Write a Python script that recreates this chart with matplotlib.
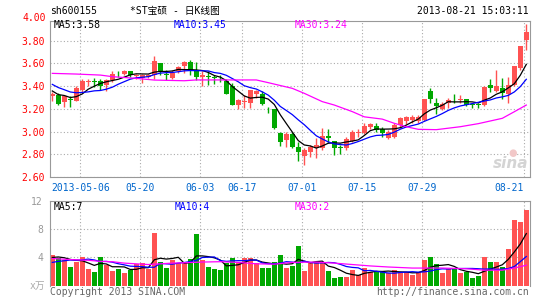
import numpy as np
import pandas as pd
import matplotlib
matplotlib.use('Agg')
from matplotlib import pyplot as plt
from matplotlib import transforms

# daily candles, 2013-04-24 .. 2013-08-21 (80 trading days)
opens = [3.31, 3.32, 3.26, 3.29, 3.27, 3.37, 3.44, 3.445, 3.45, 3.41,
         3.455, 3.51, 3.505, 3.535, 3.49, 3.47, 3.48, 3.50, 3.60, 3.51,
         3.475, 3.53, 3.58, 3.61, 3.54, 3.485, 3.49, 3.48, 3.465, 3.445,
         3.40, 3.235, 3.26, 3.255, 3.33, 3.33, 3.20, 3.195, 2.985, 2.926,
         2.976, 2.868, 2.785, 2.824, 2.853, 2.853, 2.961, 2.913, 2.86, 2.858,
         2.916, 2.99, 2.99, 3.04, 3.045, 3.022, 2.946, 2.955, 3.055, 3.095,
         3.10, 3.09, 3.10, 3.36, 3.249, 3.196, 3.25, 3.28, 3.28, 3.284,
         3.24, 3.24, 3.234, 3.41, 3.36, 3.38, 3.331, 3.41, 3.557, 3.807]
highs = [3.35, 3.34, 3.32, 3.31, 3.40, 3.46, 3.46, 3.47, 3.46, 3.46,
         3.53, 3.535, 3.545, 3.535, 3.51, 3.51, 3.51, 3.67, 3.60, 3.54,
         3.54, 3.58, 3.62, 3.63, 3.61, 3.53, 3.53, 3.50, 3.50, 3.46,
         3.43, 3.29, 3.32, 3.37, 3.365, 3.36, 3.22, 3.20, 3.00, 3.00,
         3.00, 2.911, 2.853, 2.882, 2.94, 3.029, 3.02, 2.92, 2.882, 2.95,
         3.014, 3.02, 3.08, 3.08, 3.075, 3.04, 3.014, 3.08, 3.13, 3.14,
         3.15, 3.145, 3.29, 3.38, 3.30, 3.26, 3.30, 3.33, 3.32, 3.29,
         3.25, 3.25, 3.40, 3.46, 3.543, 3.47, 3.48, 3.58, 3.754, 3.948]
lows = [3.27, 3.23, 3.22, 3.22, 3.27, 3.35, 3.40, 3.39, 3.37, 3.36,
        3.44, 3.485, 3.50, 3.485, 3.46, 3.43, 3.47, 3.46, 3.50, 3.455,
        3.46, 3.52, 3.52, 3.50, 3.455, 3.40, 3.41, 3.42, 3.44, 3.33,
        3.23, 3.20, 3.21, 3.205, 3.30, 3.235, 3.16, 3.025, 2.87, 2.868,
        2.853, 2.739, 2.706, 2.78, 2.77, 2.838, 2.90, 2.79, 2.80, 2.838,
        2.91, 2.955, 2.98, 3.02, 3.00, 2.955, 2.935, 2.94, 3.035, 3.07,
        3.08, 3.08, 3.09, 3.25, 3.155, 3.19, 3.21, 3.25, 3.25, 3.225,
        3.21, 3.21, 3.225, 3.35, 3.35, 3.29, 3.25, 3.40, 3.543, 3.719]
closes = [3.33, 3.24, 3.31, 3.28, 3.38, 3.45, 3.45, 3.44, 3.40, 3.455,
          3.505, 3.505, 3.535, 3.50, 3.50, 3.50, 3.50, 3.62, 3.53, 3.50,
          3.52, 3.57, 3.61, 3.53, 3.485, 3.495, 3.485, 3.475, 3.46, 3.33,
          3.235, 3.28, 3.265, 3.365, 3.36, 3.245, 3.195, 3.03, 2.911, 2.976,
          2.868, 2.818, 2.838, 2.868, 2.882, 2.961, 2.94, 2.853, 2.855, 2.935,
          2.999, 2.995, 3.045, 3.068, 3.01, 2.99, 2.999, 3.055, 3.117, 3.125,
          3.13, 3.125, 3.284, 3.284, 3.226, 3.243, 3.28, 3.275, 3.285, 3.234,
          3.235, 3.235, 3.396, 3.38, 3.40, 3.34, 3.41, 3.578, 3.754, 3.88]
# volume, x 10k
volumes = [4.34, 3.96, 3.63, 2.64, 3.4, 4.06, 2.36, 1.93, 4.06, 3.0,
           2.08, 2.36, 1.8, 2.26, 3.1, 3.2, 2.36, 7.45, 3.35, 2.5,
           3.63, 3.2, 3.2, 3.77, 7.3, 3.63, 2.7, 2.36, 2.2, 3.16,
           3.96, 3.16, 3.96, 3.96, 3.16, 2.5, 2.5, 3.35, 4.34, 2.55,
           2.83, 5.6, 2.08, 3.16, 3.4, 3.16, 2.08, 1.08, 1.27, 1.27,
           2.2, 1.46, 2.55, 2.0, 2.0, 2.08, 1.75, 2.2, 1.75, 1.9,
           1.5, 1.9, 3.68, 4.06, 3.07, 1.8, 2.36, 2.36, 1.8, 1.9,
           1.08, 1.37, 4.06, 3.35, 3.35, 2.7, 5.2, 9.3, 9.0, 10.7]
# sessions before the window, only used to start the moving averages
prev_close = [3.52, 3.50, 3.48, 3.45, 3.42, 3.40, 3.35, 3.37, 3.34]
prev_vol = [2.9, 3.1, 2.6, 2.8, 3.0, 2.94, 3.6, 4.2, 3.8, 4.06]

ma30_idx = [0, 4, 8, 10, 14, 17, 22, 24, 34, 36, 40, 42, 45, 47, 50,
            52, 55, 57, 59, 61, 64, 68, 71, 75, 77, 79]
ma30_val = [3.513, 3.507, 3.498, 3.484, 3.469, 3.454, 3.448, 3.455, 3.455,
            3.431, 3.381, 3.337, 3.264, 3.234, 3.176, 3.13, 3.11, 3.073,
            3.043, 3.02, 3.017, 3.043, 3.07, 3.117, 3.175, 3.234]
vol_ma30_idx = [0, 3, 6, 8, 10, 12, 14, 16, 18, 20, 22, 25, 28, 31, 34,
                37, 40, 44, 47, 50, 53, 56, 60, 65, 69, 72, 75, 77, 79]
vol_ma30_val = [3.85, 3.7, 3.6, 3.45, 3.4, 3.2, 3.1, 3.0, 3.1, 3.2, 3.25,
                3.35, 3.4, 3.3, 3.1, 3.05, 3.3, 3.35, 3.2, 3.0, 2.8, 2.65,
                2.5, 2.5, 2.4, 2.2, 2.2, 2.5, 2.9]

tick_idx = [5, 15, 25, 32, 42, 52, 62, 79]
tick_labels = ['2013-05-06', '05-20', '06-03', '06-17', '07-01',
               '07-15', '07-29', '08-21']
price_ticks = [2.6, 2.8, 3.0, 3.2, 3.4, 3.6, 3.8]
vol_ticks = [4, 8, 12]

RED = '#ff5252'
GREEN = '#00a800'
FRAME = '#999999'
GRID = '#aaaaaa'

plt.rcParams['font.family'] = ['DejaVu Sans Mono', 'Noto Sans CJK SC']
plt.rcParams['font.size'] = 7

W, H = 545., 300.


def px(x, y):
    return x / W, 1 - y / H


n = len(closes)
x = np.arange(n)
o = np.array(opens)
c = np.array(closes)
up = c >= o
colors = np.where(up, RED, GREEN)

cs = pd.Series(prev_close + closes)
ma5 = cs.rolling(5).mean().values[len(prev_close):]
ma10 = cs.rolling(10).mean().values[len(prev_close):]
vs = pd.Series(prev_vol + volumes)
vma5 = vs.rolling(5).mean().values[len(prev_vol):]
vma10 = vs.rolling(10).mean().shift(1).values[len(prev_vol):]

fig = plt.figure(figsize=(W / 100, H / 100), dpi=100)
ax = fig.add_axes([50 / W, 123 / H, 480 / W, 156.3 / H])
vax = fig.add_axes([50 / W, 14.3 / H, 480 / W, 84.7 / H])

xlim = (-0.383, n - 0.383)
grid_x = [i - 0.35 for i in tick_idx]

# price panel
ax.vlines(x, lows, highs, colors=colors, linewidth=1)
body_lo = np.minimum(o, c)
body_h = np.maximum(np.abs(c - o), 0.006)
ax.bar(x, body_h, bottom=body_lo, width=0.78, color=colors, linewidth=0)
ax.plot(x, ma5, color='black', linewidth=0.9)
ax.plot(x, ma10, color='#0000ff', linewidth=0.9)
ax.plot(ma30_idx, ma30_val, color='#ff00ff', linewidth=0.9)
ax.set_xlim(*xlim)
ax.set_ylim(2.6, 3.977)
ax.set_yticks(price_ticks)
ax.set_yticklabels(['%.2f' % t for t in price_ticks])
ax.set_xticks(grid_x)
ax.set_xticklabels(tick_labels)
ax.get_xticklabels()[-1].set_ha('right')
ax.tick_params(axis='y', length=0, pad=4, labelcolor='red', labelsize=7)
ax.tick_params(axis='x', length=0, pad=4, labelcolor='#0066cc', labelsize=7)
ax.grid(True, color=GRID, linestyle=(0, (1, 2)), linewidth=0.8)
ax.set_axisbelow(True)
for s in ax.spines.values():
    s.set_color(FRAME)
trans = transforms.blended_transform_factory(ax.transAxes, ax.transData)
ax.text(-0.0085, 4.0, '4.00', transform=trans, ha='right', va='center',
        color='red', fontsize=7, clip_on=False)

# volume panel
vax.bar(x, volumes, width=0.78, color=colors, linewidth=0)
vax.plot(x, vma5, color='black', linewidth=0.9)
vax.plot(x, vma10, color='#0000ff', linewidth=0.9)
vax.plot(vol_ma30_idx, vol_ma30_val, color='#ff00ff', linewidth=0.9)
vax.set_xlim(*xlim)
vax.set_ylim(0, 12)
vax.set_yticks(vol_ticks)
vax.set_xticks(grid_x)
vax.set_xticklabels([])
vax.tick_params(axis='y', length=0, pad=5, labelcolor=FRAME, labelsize=7)
vax.tick_params(axis='x', length=0)
vax.grid(True, color=GRID, linestyle=(0, (1, 2)), linewidth=0.8)
vax.set_axisbelow(True)
for s in vax.spines.values():
    s.set_color(FRAME)
vax.spines['bottom'].set_visible(False)

# header / labels
fig.text(*px(50, 11), 'sh600155', va='center', color='black')
fig.text(*px(175, 11), '*ST宝硕 - 日K线图', ha='center', va='center', color='black')
fig.text(*px(529, 11), '2013-08-21 15:03:11', ha='right', va='center', color='black')
fig.text(*px(54, 24.5), 'MA5:3.58', va='center', color='black')
fig.text(*px(174, 24.5), 'MA10:3.45', va='center', color='#0000ff')
fig.text(*px(295, 24.5), 'MA30:3.24', va='center', color='#ff00ff')
fig.text(*px(54, 206.5), 'MA5:7', va='center', color='black')
fig.text(*px(175, 206.5), 'MA10:4', va='center', color='#0000ff')
fig.text(*px(295, 206.5), 'MA30:2', va='center', color='#ff00ff')
fig.text(*px(45, 286), 'x万', ha='right', va='center', color='#aaaaaa')
fig.text(*px(50, 292), 'Copyright 2013 SINA.COM', va='center', color='#666666')
fig.text(*px(529, 292), 'http://finance.sina.com.cn', ha='right', va='center',
         color='#666666')
# faint watermark
fig.text(*px(511, 164), 'sina', ha='center', va='center', color='#d4d4d4',
         fontsize=11, style='italic', fontweight='bold', family='DejaVu Sans')
fig.text(*px(513, 153), '●', ha='center', va='center', color='#f2c8c8',
         fontsize=7, family='DejaVu Sans')

fig.savefig('out.png', dpi=100)
